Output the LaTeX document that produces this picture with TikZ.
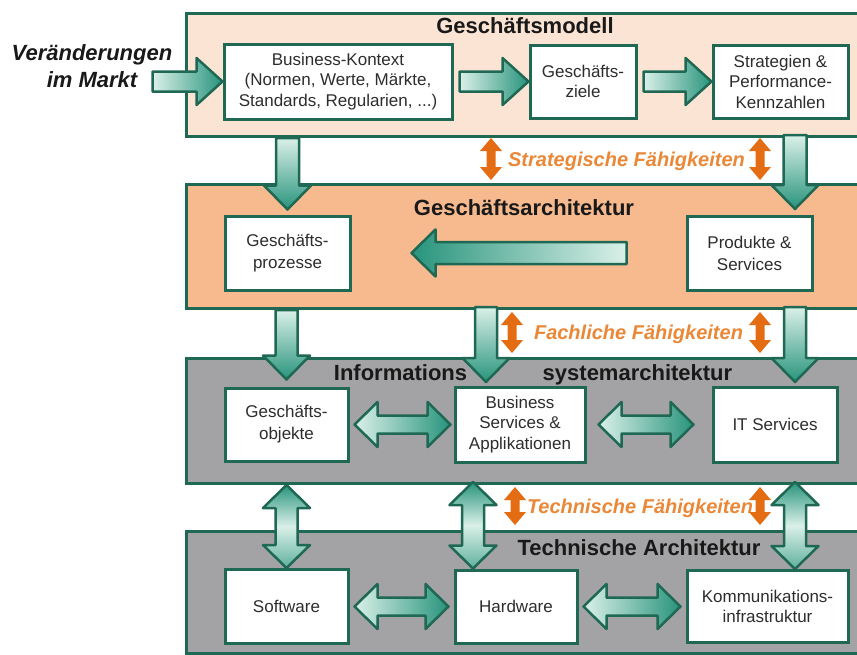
\documentclass[tikz,border=0pt]{standalone}
\usepackage{fontspec}
\setmainfont{Liberation Sans}
\usetikzlibrary{calc}
\definecolor{bordergreen}{RGB}{31,104,84}
\definecolor{peach}{RGB}{252,228,212}
\definecolor{salmon}{RGB}{246,186,142}
\definecolor{bandgray}{RGB}{163,162,164}
\definecolor{arlight}{RGB}{218,240,232}
\definecolor{ardark}{RGB}{40,148,124}
\definecolor{orarrow}{RGB}{228,108,18}
\definecolor{ortext}{RGB}{234,136,56}
\definecolor{titletext}{RGB}{25,25,25}
\definecolor{boxtext}{RGB}{45,45,45}
\tikzset{
  band/.style={draw=bordergreen, line width=3pt, rectangle, inner sep=0pt, anchor=north west},
  box/.style={draw=bordergreen, line width=3pt, fill=white, rectangle, inner sep=0pt, align=center,
    text=boxtext, font=\fontsize{17}{20.5}\selectfont},
  title/.style={text=titletext, font=\bfseries\fontsize{22}{26}\selectfont, inner sep=0pt, anchor=base},
  captext/.style={text=ortext, font=\bfseries\itshape\fontsize{20}{24}\selectfont, inner sep=0pt, anchor=base},
  bigarrow/.style={draw=bordergreen, line width=2.5pt, line join=round},
  harr/.style={bigarrow, left color=arlight, right color=ardark},
  larr/.style={bigarrow, left color=ardark, right color=arlight},
  darr/.style={bigarrow, top color=arlight, bottom color=ardark},
  vdarr/.style={bigarrow, top color=ardark, bottom color=ardark!70!arlight, middle color=arlight},
  orarr/.style={fill=orarrow, draw=none},
}
% right arrow: tail, tip, shaft half, head half, head length, style
\newcommand\rarrow[6]{\draw[#6] ($(#1)+(0,-#3)$) -- ($(#2)+(-#5,-#3)$) -- ($(#2)+(-#5,-#4)$) -- (#2)
  -- ($(#2)+(-#5,#4)$) -- ($(#2)+(-#5,#3)$) -- ($(#1)+(0,#3)$) -- cycle;}
\newcommand\larrow[6]{\draw[#6] ($(#1)+(0,-#3)$) -- ($(#2)+(#5,-#3)$) -- ($(#2)+(#5,-#4)$) -- (#2)
  -- ($(#2)+(#5,#4)$) -- ($(#2)+(#5,#3)$) -- ($(#1)+(0,#3)$) -- cycle;}
\newcommand\darrow[6]{\draw[#6] ($(#1)+(-#3,0)$) -- ($(#2)+(-#3,-#5)$) -- ($(#2)+(-#4,-#5)$) -- (#2)
  -- ($(#2)+(#4,-#5)$) -- ($(#2)+(#3,-#5)$) -- ($(#1)+(#3,0)$) -- cycle;}
\newcommand\dharrow[6]{\draw[#6] (#1) -- ($(#1)+(#5,-#4)$) -- ($(#1)+(#5,-#3)$) -- ($(#2)+(-#5,-#3)$)
  -- ($(#2)+(-#5,-#4)$) -- (#2) -- ($(#2)+(-#5,#4)$) -- ($(#2)+(-#5,#3)$) -- ($(#1)+(#5,#3)$)
  -- ($(#1)+(#5,#4)$) -- cycle;}
\newcommand\dvarrow[6]{\draw[#6] (#1) -- ($(#1)+(#4,#5)$) -- ($(#1)+(#3,#5)$) -- ($(#2)+(#3,-#5)$)
  -- ($(#2)+(#4,-#5)$) -- (#2) -- ($(#2)+(-#4,-#5)$) -- ($(#2)+(-#3,-#5)$) -- ($(#1)+(-#3,#5)$)
  -- ($(#1)+(-#4,#5)$) -- cycle;}
\begin{document}
\begin{tikzpicture}[x=1pt,y=-1pt]
\useasboundingbox[fill=white] (0,0) rectangle (857,654);
% bands
\node[band, fill=peach,    minimum width=690pt, minimum height=123pt] (B1) at (185,12) {};
\node[band, fill=salmon,   minimum width=690pt, minimum height=124pt] (B2) at (185,183) {};
\node[band, fill=bandgray, minimum width=690pt, minimum height=125pt] (B3) at (185,357) {};
\node[band, fill=bandgray, minimum width=690pt, minimum height=122pt] (B4) at (185,530) {};
% titles
\node[title] (t1) at (525,33) {Geschäftsmodell};
\node[title] (t2) at (524,215) {Geschäftsarchitektur};
\node[title] (t3a) at (400.5,380) {Informations};
\node[title] (t3b) at (637.5,380) {systemarchitektur};
\node[title] (t4) at (639,555) {Technische Architektur};
% left text
\node[text=titletext, font=\bfseries\itshape\fontsize{22}{27}\selectfont, align=center, inner sep=0pt]
  (vm) at (92,66.5) {Veränderungen\\im Markt};
% boxes
\node[box, minimum width=228pt, minimum height=75pt] (bk) at (338,81.5)
  {Business-Kontext\\(Normen, Werte, Märkte,\\Standards, Regularien, ...)};
\node[box, minimum width=106pt, minimum height=73pt] (gz) at (583,81.5) {Geschäfts-\\ziele};
\node[box, minimum width=135pt, minimum height=73pt] (sp) at (780.5,81.5)
  {Strategien \&\\Performance-\\Kennzahlen};
\node[box, minimum width=125pt, minimum height=74pt, font=\fontsize{17}{22}\selectfont] (gp) at (287.5,253) {Geschäfts-\\prozesse};
\node[box, minimum width=125pt, minimum height=74pt, font=\fontsize{17}{22}\selectfont] (ps) at (749.5,253) {Produkte \&\\Services};
\node[box, minimum width=123pt, minimum height=73pt, font=\fontsize{17}{22}\selectfont] (go) at (286.5,424.5) {Geschäfts-\\objekte};
\node[box, minimum width=130pt, minimum height=75pt] (bs) at (520,424.5) {Business\\Services \&\\Applikationen};
\node[box, minimum width=124pt, minimum height=75pt] (it) at (775,424.5) {IT Services};
\node[box, minimum width=123pt, minimum height=74pt] (sw) at (286.5,606.5) {Software};
\node[box, minimum width=122pt, minimum height=73pt] (hw) at (516,606.5) {Hardware};
\node[box, minimum width=161pt, minimum height=72pt] (ki) at (767.5,606.5) {Kommunikations-\\infrastruktur};
% arrow end coordinates
\coordinate (vt) at ($(bk.west)+(-70,0)$);
\coordinate (a1t) at ($(bk.east)+(6,0)$);
\coordinate (a1h) at (gz.west);
\coordinate (a2t) at ($(gz.east)+(6,0)$);
\coordinate (a2h) at (sp.west);
\coordinate (la1) at ($(ps.west)+(-59,0)$);
\coordinate (la2) at ($(gp.east)+(60,0)$);
\coordinate (d1t) at (gp.north |- B1.south);
\coordinate (d1h) at ($(gp.north)+(0,-5)$);
\coordinate (d2t) at (795,135);
\coordinate (d2h) at (795,209);
\coordinate (d3t) at (go.north |- B2.south);
\coordinate (d3h) at ($(go.north)+(0,-7)$);
\coordinate (d4t) at (486,307);
\coordinate (d4h) at (486,382);
\coordinate (d5t) at (795,307);
\coordinate (d5h) at (795,382);
\coordinate (v1t) at (go.south |- B3.south);
\coordinate (v1h) at (sw.north);
\coordinate (v2t) at (473,482);
\coordinate (v2h) at (v2t |- hw.north);
\coordinate (v3t) at (795,482);
\coordinate (v3h) at (v3t |- ki.north);
\coordinate (h1a) at ($(go.east)+(5,0)$);
\coordinate (h1b) at ($(bs.west)+(-3,0)$);
\coordinate (h2a) at ($(bs.east)+(12,0)$);
\coordinate (h2b) at ($(it.west)+(-18,0)$);
\coordinate (h3a) at ($(sw.east)+(5,0)$);
\coordinate (h3b) at ($(hw.west)+(-5,0)$);
\coordinate (h4a) at ($(hw.east)+(5,0)$);
\coordinate (h4b) at ($(ki.west)+(-5,0)$);
% green block arrows
\rarrow{vt}{bk.west}{10}{23.5}{26}{harr}
\rarrow{a1t}{a1h}{10}{23.5}{26}{harr}
\rarrow{a2t}{a2h}{10}{23.5}{26}{harr}
\larrow{la1}{la2}{11}{23.5}{24}{larr}
\darrow{d1t}{d1h}{11.5}{23.5}{24}{darr}
\darrow{d2t}{d2h}{11.5}{23.5}{24}{darr}
\darrow{d3t}{d3h}{11}{23.5}{24}{darr}
\darrow{d4t}{d4h}{11}{23.5}{24}{darr}
\darrow{d5t}{d5h}{11}{23.5}{24}{darr}
\dvarrow{v1t}{v1h}{11}{23.5}{23}{vdarr}
\dvarrow{v2t}{v2h}{11}{23.5}{23}{vdarr}
\dvarrow{v3t}{v3h}{11}{23.5}{23}{vdarr}
\dharrow{h1a}{h1b}{9}{22.5}{23}{harr}
\dharrow{h2a}{h2b}{9}{22.5}{23}{harr}
\dharrow{h3a}{h3b}{9}{22.5}{23}{harr}
\dharrow{h4a}{h4b}{9}{22.5}{23}{harr}
% capability labels
\node[captext] (c1) at (626.5,166) {Strategische Fähigkeiten};
\node[captext] (c2) at (638.5,339) {Fachliche Fähigkeiten};
\node[captext] (c3) at (640,513) {Technische Fähigkeiten};
% orange double arrows
\coordinate (o1a) at (491,138); \coordinate (o1b) at (491,180);
\coordinate (o2a) at (760,138); \coordinate (o2b) at (760,180);
\coordinate (o3a) at (512,312); \coordinate (o3b) at (512,353);
\coordinate (o4a) at (760,312); \coordinate (o4b) at (760,353);
\coordinate (o5a) at (515,487); \coordinate (o5b) at (515,525);
\coordinate (o6a) at (760,487); \coordinate (o6b) at (760,525);
\dvarrow{o1a}{o1b}{4.5}{11}{13}{orarr}
\dvarrow{o2a}{o2b}{4.5}{11}{13}{orarr}
\dvarrow{o3a}{o3b}{4.5}{11}{13}{orarr}
\dvarrow{o4a}{o4b}{4.5}{11}{13}{orarr}
\dvarrow{o5a}{o5b}{4.5}{11}{13}{orarr}
\dvarrow{o6a}{o6b}{4.5}{11}{13}{orarr}
\end{tikzpicture}
\end{document}
